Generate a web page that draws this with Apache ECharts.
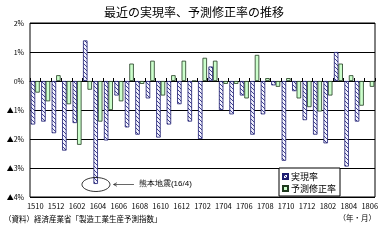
<!DOCTYPE html>
<html><head><meta charset="utf-8">
<script src="https://cdn.jsdelivr.net/npm/echarts@6/dist/echarts.min.js"></script>
<style>html,body{margin:0;padding:0;background:#fff}#c{width:388px;height:244px}</style>
</head><body><div id="c"></div>
<script>
const months = ['1510','1511','1512','1601','1602','1603','1604','1605','1606','1607','1608','1609','1610','1611','1612','1701','1702','1703','1704','1705','1706','1707','1708','1709','1710','1711','1712','1801','1802','1803','1804','1805','1806'];
const jitsugen = [-1.5,-1.4,-1.8,-2.4,-1.45,1.4,-3.55,-2.05,-0.5,-1.6,-1.85,-0.6,-1.95,-1.5,-0.8,-1.4,-2.0,0.5,-1.0,-1.15,-0.5,-1.85,-1.15,-0.15,-2.75,-0.35,-1.35,-1.85,-2.15,1.0,-2.95,-1.4,null];
const yosoku = [-0.4,-0.7,0.2,-0.8,-2.2,-0.3,-1.4,-1.0,-0.7,0.6,-0.1,0.7,-0.5,0.2,0.7,0,0.8,0.7,-0.1,-0.1,-0.6,0.9,0.1,-0.2,0.1,-0.6,-0.9,-1.05,-0.5,0.6,0.2,-0.85,-0.2];
const yTicks = [-4,-3,-2,-1,0,1,2];
const seriesNames = ['実現率','予測修正率'];
const titleText = '最近の実現率、予測修正率の推移';
const noteText = '（資料）経済産業省「製造工業生産予測指数」';
const unitText = '（年・月）';
const annoText = '熊本地震(16/4)';
const annoCat = '1604';
const annoVal = -3.5;

const FONT = '"Noto Sans CJK JP", sans-serif';

// hatch pattern
const pc = document.createElement('canvas');
pc.width = 4; pc.height = 4;
const g = pc.getContext('2d');
g.fillStyle = '#f4f4ff'; g.fillRect(0,0,4,4);
g.strokeStyle = '#2a2a80'; g.lineWidth = 0.9;
g.beginPath();
g.moveTo(-1,-1); g.lineTo(5,5);
g.moveTo(-1,3); g.lineTo(1,5);
g.moveTo(3,-1); g.lineTo(5,1);
g.stroke();
const hatch = {image: pc, repeat: 'repeat'};

const chart = echarts.init(document.getElementById('c'), null, {renderer: 'canvas'});
chart.setOption({
  animation: false,
  textStyle: {fontFamily: FONT},
  title: {
    text: titleText, left: 'center', top: 1,
    textStyle: {fontSize: 12, fontWeight: 'normal', color: '#000', fontFamily: FONT}
  },
  grid: {left: 30, right: 13, top: 23, bottom: 47, show: true, borderColor: '#000', borderWidth: 1, backgroundColor: 'transparent'},
  legend: {
    orient: 'vertical', left: 279, top: 168,
    itemWidth: 5, itemHeight: 5, itemGap: 3,
    padding: [4, 4, 3, 3],
    backgroundColor: '#fff', borderColor: '#000', borderWidth: 1, borderRadius: 0,
    textStyle: {fontSize: 9, color: '#000', fontFamily: FONT, padding: [0,0,0,-2]},
    data: [{name: seriesNames[0], icon: 'rect'}, {name: seriesNames[1], icon: 'rect'}]
  },
  xAxis: [{
    type: 'category', data: months,
    axisLine: {onZero: true, lineStyle: {color: '#000', width: 1}},
    axisTick: {show: true, inside: true, length: 3, interval: 0, lineStyle: {color: '#000'}},
    axisLabel: {show: false},
    splitLine: {show: false}
  }, {
    type: 'category', data: months, position: 'bottom',
    axisLine: {show: false}, axisTick: {show: false},
    axisLabel: {interval: 1, fontSize: 7.5, color: '#000', margin: 5, fontFamily: FONT}
  }],
  yAxis: {
    type: 'value', min: yTicks[0], max: yTicks[yTicks.length-1], interval: 1,
    axisLine: {show: false}, axisTick: {show: false},
    axisLabel: {fontSize: 7, color: '#000', margin: 6, fontFamily: FONT,
      formatter: v => v < 0 ? '▲' + (-v) + '%' : v + '%'},
    splitLine: {lineStyle: {color: '#000', width: 1}}
  },
  series: [{
    name: seriesNames[0], type: 'bar', data: jitsugen,
    barGap: '0%', barCategoryGap: '14%',
    itemStyle: {color: hatch, borderColor: '#1c1c70', borderWidth: 0.8}
  }, {
    name: seriesNames[1], type: 'bar', data: yosoku,
    itemStyle: {color: '#ccffcc', borderColor: '#1f3a1f', borderWidth: 0.8}
  }]
});

const p = chart.convertToPixel({xAxisIndex: 0, yAxisIndex: 0}, [annoCat, annoVal]);
const cx = p[0] - 2, cy = p[1] + 2;
chart.setOption({
  graphic: [
    {type: 'ellipse', shape: {cx: cx, cy: cy, rx: 14, ry: 7}, style: {fill: 'none', stroke: '#000', lineWidth: 0.8}, z: 100},
    {type: 'line', shape: {x1: cx + 18, y1: cy, x2: cx + 38, y2: cy}, style: {stroke: '#000', lineWidth: 0.6}, z: 100},
    {type: 'polyline', shape: {points: [[cx + 21, cy - 1.8], [cx + 17.5, cy], [cx + 21, cy + 1.8]]}, style: {fill: 'none', stroke: '#000', lineWidth: 0.6}, z: 100},
    {type: 'text', left: cx + 43, top: cy - 5, style: {text: annoText, fontSize: 8, fill: '#000', font: '8px ' + FONT}, z: 100},
    {type: 'text', left: 4, top: 215, style: {text: noteText, fill: '#000', font: '7.5px ' + FONT}},
    {type: 'text', right: 12, top: 214, style: {text: unitText, fill: '#000', font: '7.5px ' + FONT}}
  ]
});
</script></body></html>
